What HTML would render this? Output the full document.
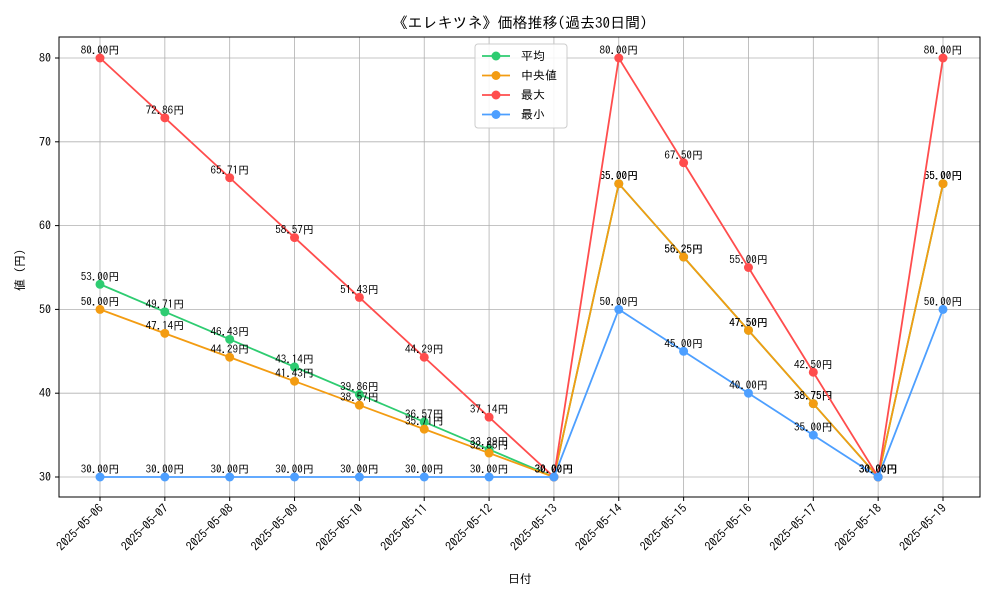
<!DOCTYPE html>
<html><head><meta charset="utf-8"><style>
body{margin:0;background:#fff;}
svg{display:block;font-family:"IPAGothic","Liberation Sans","Noto Sans CJK JP",sans-serif;}
</style></head><body>
<svg id="chart" width="1000" height="600"></svg>
<script>
const dates=["2025-05-06","2025-05-07","2025-05-08","2025-05-09","2025-05-10","2025-05-11","2025-05-12","2025-05-13","2025-05-14","2025-05-15","2025-05-16","2025-05-17","2025-05-18","2025-05-19"];
const avgVals=[53,49.71,46.43,43.14,39.86,36.57,33.29,30,65,56.25,47.5,38.75,30,65];
const medVals=[50,47.14,44.29,41.43,38.57,35.71,32.86,30,65,56.25,47.5,38.75,30,65];
const maxVals=[80,72.86,65.71,58.57,51.43,44.29,37.14,30,80,67.5,55,42.5,30,80];
const minVals=[30,30,30,30,30,30,30,30,50,45,40,35,30,50];
const yTicks=[30,40,50,60,70,80];
const seriesNames=["平均","中央値","最大","最小"];
const seriesColors=["#2ecc71","#f39c12","#ff4d4d","#4d9fff"];
const seriesData=[avgVals,medVals,maxVals,minVals];

const NS="http://www.w3.org/2000/svg";
const svg=document.getElementById('chart');
const L=59,R=980,T=37,B=497;
const x=i=>100+i*(943-100)/(dates.length-1);
const y=v=>477-(v-30)*(477-58)/50;
function mk(tag,attrs,parent){const e=document.createElementNS(NS,tag);for(const k in attrs)e.setAttribute(k,attrs[k]);(parent||svg).appendChild(e);return e;}

const title=mk('text',{x:520,y:28,'text-anchor':'middle','font-size':15});
title.textContent="《エレキツネ》価格推移(過去30日間)";



const grid=mk('g',{});


dates.forEach((d,i)=>{
  mk('line',{x1:x(i),x2:x(i),y1:T,y2:B,stroke:'#b0b0b0','stroke-width':0.8},grid);
  mk('line',{x1:x(i),x2:x(i),y1:B,y2:B+4,stroke:'#000'});
  const t=mk('text',{transform:`translate(${x(i)+4},${B+12}) rotate(-45)`,'text-anchor':'end','font-size':12});
  t.textContent=d;
  
  
});
yTicks.forEach(v=>{
  mk('line',{x1:L,x2:R,y1:y(v),y2:y(v),stroke:'#b0b0b0','stroke-width':0.8},grid);
  mk('line',{x1:L-4,x2:L,y1:y(v),y2:y(v),stroke:'#000'});
  const t=mk('text',{x:L-8,y:y(v)+4,'text-anchor':'end','font-size':12});
  t.textContent=v;
  
  
});
const frame=mk('rect',{x:L,y:T,width:R-L,height:B-T,fill:'none',stroke:'#000','stroke-width':1});



const xt=mk('text',{x:520,y:583,'text-anchor':'middle','font-size':12});
xt.textContent="日付";


const yt=mk('text',{transform:'translate(24,267) rotate(-90)','text-anchor':'middle','font-size':12});
yt.textContent="値（円）";



seriesData.forEach((vals,s)=>{
  const g=mk('g',{});
  
  
  mk('polyline',{points:vals.map((v,i)=>x(i)+','+y(v)).join(' '),fill:'none',stroke:seriesColors[s],'stroke-width':1.8},g);
  vals.forEach((v,i)=>{
    const c=mk('circle',{cx:x(i),cy:y(v),r:4.5,fill:seriesColors[s]},g);
    
    
    const t=mk('text',{x:x(i),y:y(v)-4,'text-anchor':'middle','font-size':11},g);
    t.textContent=v.toFixed(2)+"円";
    
    
  });
});

const lg=mk('g',{});


mk('rect',{x:475,y:44,width:92,height:84,rx:3,fill:'#fff','fill-opacity':0.85,stroke:'#ccc'},lg);
seriesNames.forEach((n,s)=>{
  const yy=56+s*19.5;
  const e=mk('g',{},lg);
  
  
  mk('line',{x1:482,x2:510,y1:yy,y2:yy,stroke:seriesColors[s],'stroke-width':1.8},e);
  mk('circle',{cx:496,cy:yy,r:4.5,fill:seriesColors[s]},e);
  const t=mk('text',{x:521,y:yy+4,'font-size':12},e);
  t.textContent=n;
});
</script>
</body></html>
